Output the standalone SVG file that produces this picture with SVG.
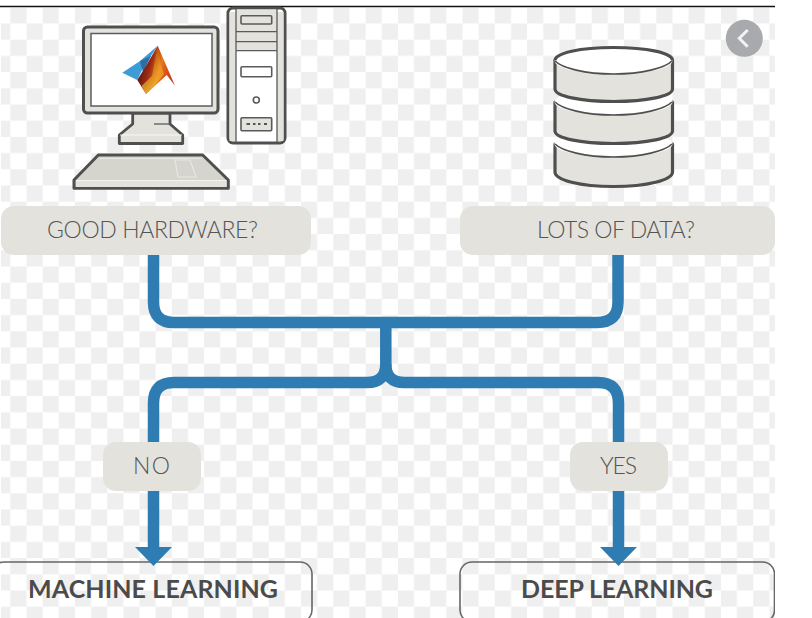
<svg xmlns="http://www.w3.org/2000/svg" width="812" height="618" viewBox="0 0 812 618">
<style>
.bx{fill:#e3e2dd}
.out{fill:none;stroke:#666;stroke-width:1.6}
.lb{font-family:Lato,"Open Sans",sans-serif;font-size:23px;font-weight:300;fill:#555}
.ob{font-family:Lato,"Open Sans",sans-serif;font-size:25px;font-weight:700;fill:#4b4b4b}
.wire{fill:none;stroke:#2e7cb1;stroke-width:11.5}
.dk{stroke:#4f4f4f;stroke-linejoin:round}
.thin{fill:none;stroke:#5a5a5a;stroke-width:1.3}
</style>
<defs>
<pattern id="chk" patternUnits="userSpaceOnUse" x="10.3" y="7.3" width="32.3" height="32.4">
<rect width="32.3" height="32.4" fill="#fff"/>
<rect width="16.15" height="16.2" fill="#efefef"/>
<rect x="16.15" y="16.2" width="16.15" height="16.2" fill="#efefef"/>
</pattern>
<linearGradient id="peak" gradientUnits="userSpaceOnUse" x1="137" y1="70" x2="175" y2="80">
<stop offset="0" stop-color="#4a1518"/>
<stop offset="0.3" stop-color="#9e2a12"/>
<stop offset="0.55" stop-color="#e87a1c"/>
<stop offset="0.72" stop-color="#d9541a"/>
<stop offset="1" stop-color="#c4321a"/>
</linearGradient>
<linearGradient id="yel" x1="0" y1="0" x2="0" y2="1">
<stop offset="0" stop-color="#f4b81f" stop-opacity="0.2"/>
<stop offset="1" stop-color="#f9cd35"/>
</linearGradient>
<clipPath id="area"><rect x="0" y="8" width="775" height="610"/></clipPath>
</defs>
<rect width="812" height="618" fill="#fff"/>
<rect x="1" y="8" width="774" height="610" fill="url(#chk)"/>
<path d="M0 6.500H775" stroke="#111" stroke-width="1.600"/>

<g id="hardware-icon">
<path class="dk" d="M132.700 113V124L119.300 135V143.500H182.700V135L170 124V113Z" fill="#e3e2dd" stroke-width="2.800"/>
<path d="M154 124H170" class="thin"/>
<path d="M120 135H182" stroke="#fff" stroke-width="0.800" fill="none"/>
<rect class="dk" x="83.500" y="27" width="134.500" height="86" rx="4" fill="#e3e2dd" stroke-width="3"/>
<rect x="91" y="33.500" width="121" height="72.500" fill="#fff" stroke="#5c5c5c" stroke-width="1.500"/>
<path d="M122.300 72.700L140 61L157.700 45.700L143 68L137.300 80Z" fill="#3d9bd6"/>
<path d="M140 61L151 56L143 72Z" fill="#2b6fa6"/>
<path d="M157.700 45.700L175 85.700L166.700 75L153.300 87.300L146 94L137.300 80L146.300 65.300Z" fill="url(#peak)"/>
<path d="M157.700 45.700L160.500 64L164 74L153.300 87.300L146 94L141.500 86L152 76Z" fill="url(#yel)" opacity="0.7"/>
<path class="dk" d="M98.300 155H202.700L228.300 180V188.300H74V180Z" fill="#d5d4cd" stroke-width="3"/>
<path d="M100 158.500H201" stroke="#e8e7e2" stroke-width="1" fill="none"/>
<path d="M175 160L190 160L196 177H178Z" fill="none" stroke="#e8e7e2" stroke-width="1.200"/>
<path d="M76 184H226.500" stroke="#e3e2dd" stroke-width="6" fill="none"/>
<path d="M76 180.500H226.500" stroke="#f4f3ef" stroke-width="1.200" fill="none"/>
</g>

<g id="tower-icon">
<rect class="dk" x="228" y="8" width="57" height="135" rx="5" fill="#fff" stroke-width="3"/>
<path d="M236 9.500H277V50.700H236Z" fill="#e3e2dd"/>
<path d="M229.500 12V141H236V12ZM277 12V141H283.500V12Z" fill="#e3e2dd"/>
<path d="M236 9V142M277 9V142M236 31.700H277M236 41.700H277M236 50.700H277" class="thin"/>
<rect x="241" y="15.700" width="30.700" height="8.300" rx="1" fill="#e3e2dd" stroke="#5a5a5a" stroke-width="1.600"/>
<rect x="241" y="66.700" width="30.700" height="10" rx="1" fill="#fff" stroke="#5a5a5a" stroke-width="1.600"/>
<circle cx="256.300" cy="100" r="3" fill="#fff" stroke="#5a5a5a" stroke-width="1.600"/>
<rect x="241" y="117.700" width="30.700" height="13" rx="1" fill="#e3e2dd" stroke="#5a5a5a" stroke-width="1.600"/>
<path d="M246.500 124H250M253 124H255.500M258 124H260.500M264 124H267" stroke="#555" stroke-width="2" fill="none"/>
</g>

<g id="data-icon">
<path class="dk" d="M555 144V172C555 180 580 186.500 613.500 186.500S672.500 180 672.500 172V144Z" fill="#e3e2dd" stroke-width="3.200"/>
<ellipse cx="613.500" cy="144" rx="59" ry="13" fill="#fff"/>
<path d="M555 144C562 151 585 157 613.500 157S665 151 672 144" fill="none" stroke="#4f4f4f" stroke-width="1.600"/>
<path class="dk" d="M555 102V131C555 138 580 143.500 613.500 143.500S672.500 138 672.500 131V102Z" fill="#e3e2dd" stroke-width="3.200"/>
<ellipse cx="613.500" cy="102" rx="59" ry="13" fill="#fff"/>
<path d="M555 102C562 109 585 115 613.500 115S665 109 672 102" fill="none" stroke="#4f4f4f" stroke-width="1.600"/>
<path class="dk" d="M555 60.500V89C555 96 580 101.500 613.500 101.500S672.500 96 672.500 89V60.500Z" fill="#e3e2dd" stroke-width="3.200"/>
<ellipse cx="613.500" cy="60.500" rx="59" ry="13.500" fill="#fff"/>
<path d="M555 60.500C555 53 580 47.500 613.500 47.500S672.500 53 672.500 60.500" fill="none" stroke="#4f4f4f" stroke-width="3.200"/>
<path d="M555 61C562 68 585 74 613.500 74S665 68 672 61" fill="none" stroke="#4f4f4f" stroke-width="1.600"/>
</g>

<g id="back-button">
<circle cx="744.300" cy="38.300" r="18.500" fill="#a0a1a4" fill-opacity="0.9"/>
<path d="M747.700 30L739.300 38.300L747.700 46.700" fill="none" stroke="#f2f2f2" stroke-width="3"/>
</g>

<g id="machine-learning">
<g clip-path="url(#area)"><rect class="out" x="-8" y="562" width="320" height="60" rx="12"/></g>
<text class="ob" x="28" y="598.300" textLength="250" lengthAdjust="spacing">MACHINE LEARNING</text>
</g>
<g id="deep-learning">
<g clip-path="url(#area)"><rect class="out" x="460" y="562" width="314.500" height="60" rx="12"/></g>
<text class="ob" x="521" y="598.300" textLength="192" lengthAdjust="spacing">DEEP LEARNING</text>
</g>

<g id="connectors">
<path class="wire" d="M153.500 250V302Q153.500 322.500 174 322.500H597Q618 322.500 618 302V250"/>
<path class="wire" d="M153.500 548V403Q153.500 382.500 174 382.500H367Q385.800 382.500 385.800 364V322"/>
<path class="wire" d="M618.500 548V403Q618.500 382.500 598 382.500H404.500Q385.800 382.500 385.800 364"/>
<path d="M135 547H172L153.500 566Z" fill="#2e7cb1"/>
<path d="M600 547H637L618.500 566Z" fill="#2e7cb1"/>
</g>

<g id="good-hardware">
<rect class="bx" x="1" y="206" width="310" height="49" rx="13"/>
<text class="lb" x="47" y="237.700" textLength="211" lengthAdjust="spacing">GOOD HARDWARE?</text>
</g>
<g id="lots-of-data">
<rect class="bx" x="460" y="206" width="315" height="49" rx="13"/>
<text class="lb" x="537" y="237.700" textLength="158" lengthAdjust="spacing">LOTS OF DATA?</text>
</g>
<g id="no">
<rect class="bx" x="103" y="442" width="98" height="49" rx="13"/>
<text class="lb" x="133" y="474" textLength="37" lengthAdjust="spacing">NO</text>
</g>
<g id="yes">
<rect class="bx" x="570" y="442" width="98" height="49" rx="13"/>
<text class="lb" x="600" y="474" textLength="37" lengthAdjust="spacing">YES</text>
</g>
</svg>
